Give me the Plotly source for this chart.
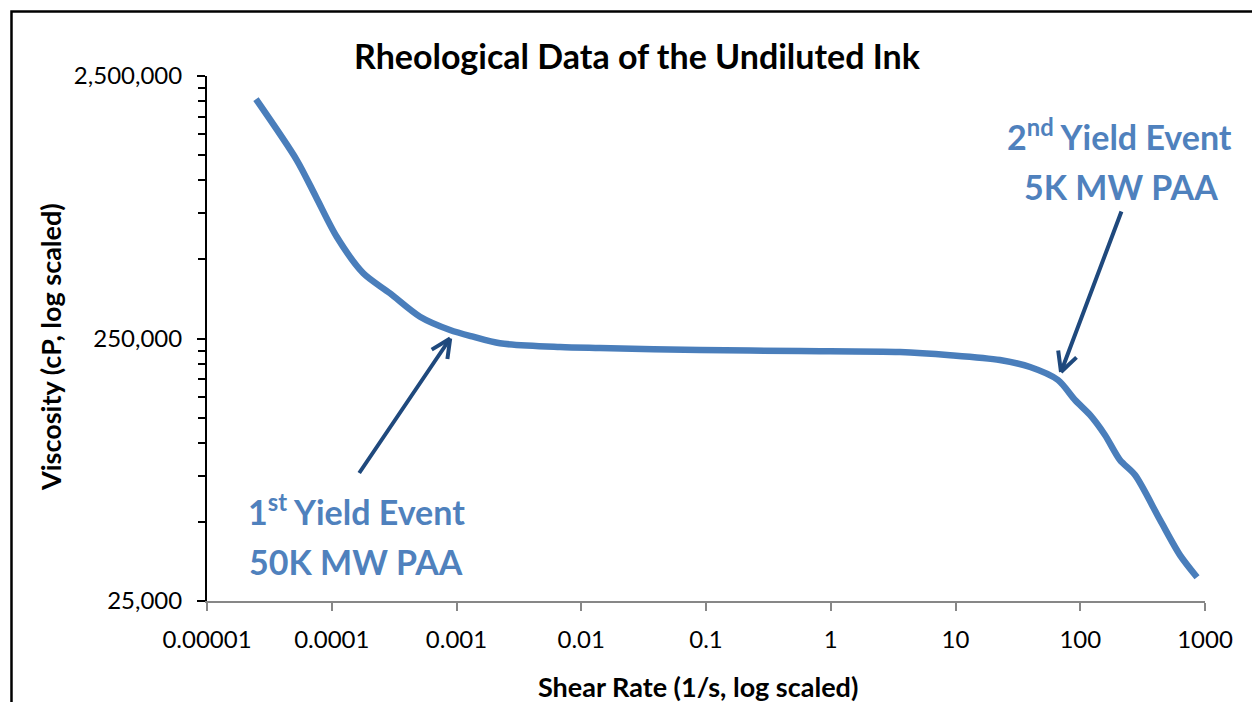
import math
import plotly.graph_objects as go

# Shear rate (1/s) and viscosity (cP) of the undiluted ink
shear_rate = [2.47e-5, 5.24e-5, 7.48e-5, 1.096e-4, 1.79e-4, 2.93e-4, 5.10e-4,
              8.87e-4, 1.356e-3, 2.23e-3, 6.76e-3, 1.41e-2, 8.95e-2, 0.567,
              3.59, 9.04, 22.7, 39.6, 66.3, 90.8, 119.7, 157.8, 208, 275,
              436, 630, 863]
viscosity = [2040000, 1196000, 865000, 610500, 443000, 371700, 302700,
             269400, 254000, 239700, 232000, 230000, 226000, 224000,
             222000, 216000, 207000, 194700, 173700, 145800, 127800,
             107200, 86100, 75500, 50900, 37400, 30800]

x_ticks = [1e-5, 1e-4, 1e-3, 1e-2, 1e-1, 1, 10, 100, 1000]
x_labels = ["0.00001", "0.0001", "0.001", "0.01", "0.1", "1", "10", "100", "1000"]
y_ticks = [25000, 250000, 2500000]
y_labels = ["25,000", "250,000", "2,500,000"]
y_minor = [25000 * k for k in range(2, 10)] + [250000 * k for k in range(2, 10)]

# Yield events pointed at by the arrows: (shear rate, viscosity)
yield_1 = (8.9e-4, 250000)
yield_2 = (70.1, 186400)

FONT = "Lato"
LINE_BLUE = "#4A7EBB"
TEXT_BLUE = "#4F81BD"
ARROW_BLUE = "#1F497D"

fig = go.Figure()
fig.add_trace(go.Scatter(
    x=shear_rate, y=viscosity, mode="lines",
    line=dict(color=LINE_BLUE, width=6.5, shape="spline", smoothing=0.8),
    hoverinfo="skip", showlegend=False,
))

fig.update_xaxes(
    type="log", range=[-5, 3],
    tickmode="array", tickvals=x_ticks, ticktext=x_labels,
    showline=True, linecolor="#878787", linewidth=2,
    ticks="outside", ticklen=8, tickwidth=2, tickcolor="#878787",
    showgrid=False, zeroline=False,
    tickfont=dict(family=FONT, size=24, color="#000000"),
    ticklabelstandoff=8,
)
fig.update_yaxes(
    type="log", range=[math.log10(25000), math.log10(2500000)],
    tickmode="array", tickvals=y_ticks, ticktext=y_labels,
    showline=True, linecolor="#000000", linewidth=2,
    ticks="outside", ticklen=8, tickwidth=2, tickcolor="#000000",
    minor=dict(tickmode="array", tickvals=y_minor, ticks="outside",
               ticklen=7, tickwidth=2, tickcolor="#000000", showgrid=False),
    showgrid=False, zeroline=False,
    tickfont=dict(family=FONT, size=24, color="#000000"),
    ticklabelstandoff=10,
)


def arrow(target, ax, ay, wings):
    """Shaft plus an open V head, tip placed on the target data point."""
    tx, ty = math.log10(target[0]), math.log10(target[1])
    items = [dict(x=tx, y=ty, xref="x", yref="y", text="", showarrow=True,
                  arrowhead=0, arrowwidth=4, arrowcolor=ARROW_BLUE,
                  ax=ax, ay=ay, standoff=0, startstandoff=0)]
    for wx, wy in wings:
        items.append(dict(x=tx, y=ty, xref="x", yref="y", text="",
                          showarrow=True, arrowhead=0, arrowwidth=4,
                          arrowcolor=ARROW_BLUE, ax=wx, ay=wy,
                          standoff=0, startstandoff=0))
    return items


def label(text, x, y, size=34, color=TEXT_BLUE, angle=0):
    return dict(text=text, x=x, y=y, xref="paper", yref="paper",
                showarrow=False, xanchor="center", yanchor="middle",
                textangle=angle,
                font=dict(family=FONT, size=size, color=color))


annotations = []
annotations += arrow(yield_1, -92, 136, [(-20, 12), (-3, 22)])
annotations += arrow(yield_2, 61, -162, [(-3, -23), (17, -16)])
annotations += [
    label("<b>Rheological Data of the Undiluted Ink</b>", 0.4309, 1.0381,
          size=34, color="#000000"),
    label("<b>Viscosity (cP, log scaled)</b>", -0.1573, 0.4838,
          size=27, color="#000000", angle=-90),
    label("<b>Shear Rate (1/s, log scaled)</b>", 0.492, -0.1638,
          size=27, color="#000000"),
    label("<b>1<sup>st</sup> Yield Event</b>", 0.1503, 0.1733),
    label("<b>50K MW PAA</b>", 0.1493, 0.0743),
    label("<b>2<sup>nd</sup> Yield Event</b>", 0.9148, 0.8876),
    label("<b>5K MW PAA</b>", 0.9158, 0.7886),
]

fig.update_layout(
    width=1252, height=702,
    margin=dict(l=207, r=47, t=76, b=101),
    paper_bgcolor="#FFFFFF", plot_bgcolor="#FFFFFF",
    font=dict(family=FONT),
    annotations=annotations,
    shapes=[dict(type="rect", xref="paper", yref="paper",
                 x0=-0.1959, x1=1.06, y0=-0.22, y1=1.1229,
                 line=dict(color="#000000", width=2.5),
                 fillcolor="rgba(0,0,0,0)", layer="above")],
)

fig.write_html("out.html")
